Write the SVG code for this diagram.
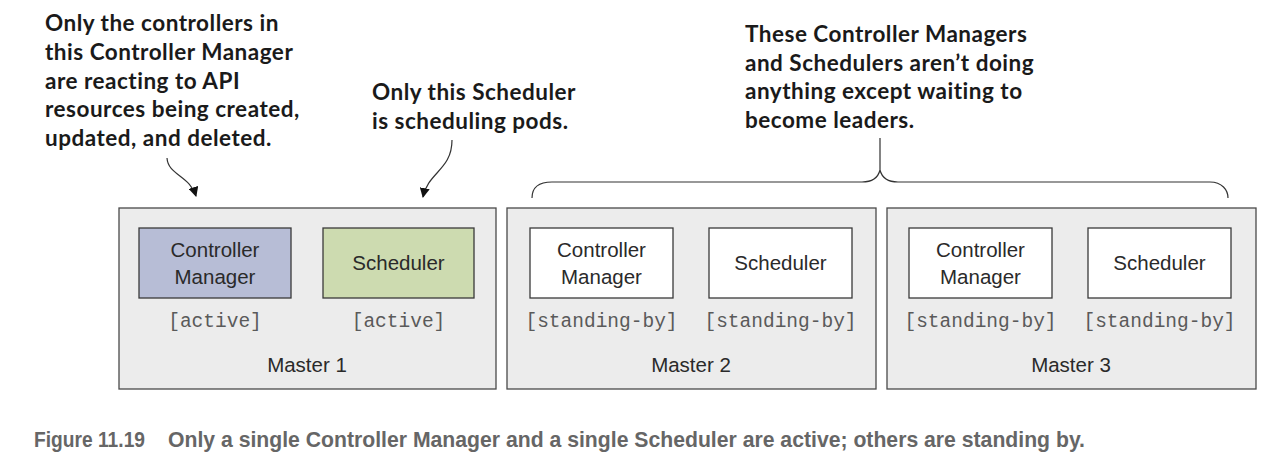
<svg xmlns="http://www.w3.org/2000/svg" width="1270" height="472" viewBox="0 0 1270 472">
<style>
.master{fill:#ececec;stroke:#4a4a4a;stroke-width:1.3}
.comp{stroke:#3a3a3a;stroke-width:1.3;fill:#ffffff}
.cm-active{fill:#b7bdd6}
.sch-active{fill:#cddbb0}
.lbl{font-family:"Liberation Sans",Arial,sans-serif;font-size:20.5px;fill:#2a2a2a;text-anchor:middle}
.state{font-family:"Liberation Mono","Courier New",monospace;font-size:19.5px;fill:#5a5a5a;text-anchor:middle}
.note{font-family:Lato,"Open Sans",sans-serif;font-weight:bold;font-size:22.5px;letter-spacing:0.5px;fill:#1a1a1a}
.cap{font-family:"Liberation Sans",Arial,sans-serif;font-weight:bold;font-size:21.5px;fill:#666}
.conn{fill:none;stroke:#333;stroke-width:1.2}
</style>
<defs>
<marker id="ah" viewBox="0 0 10 10" refX="9" refY="5" markerWidth="10" markerHeight="10" markerUnits="userSpaceOnUse" orient="auto">
<path d="M0,0 L10,5 L0,10 z" fill="#111"/>
</marker>
</defs>

<g id="master1">
<rect class="master" x="119" y="208" width="377" height="181"/>
<g id="cm1"><rect class="comp cm-active" x="139" y="228" width="152" height="70"/>
<text class="lbl" x="215" y="257">Controller</text><text class="lbl" x="215" y="284">Manager</text></g>
<g id="sch1"><rect class="comp sch-active" x="323" y="228" width="151" height="70"/>
<text class="lbl" x="398.5" y="270">Scheduler</text></g>
<text class="state" x="215" y="327">[active]</text>
<text class="state" x="398.5" y="327">[active]</text>
<text class="lbl" x="307" y="372">Master 1</text>
</g>

<g id="master2">
<rect class="master" x="507" y="208" width="369" height="181"/>
<g id="cm2"><rect class="comp" x="530" y="228" width="143" height="70"/>
<text class="lbl" x="601.5" y="257">Controller</text><text class="lbl" x="601.5" y="284">Manager</text></g>
<g id="sch2"><rect class="comp" x="709" y="228" width="143" height="70"/>
<text class="lbl" x="780.5" y="270">Scheduler</text></g>
<text class="state" x="601.5" y="327">[standing-by]</text>
<text class="state" x="780.5" y="327">[standing-by]</text>
<text class="lbl" x="691" y="372">Master 2</text>
</g>

<g id="master3">
<rect class="master" x="887" y="208" width="369" height="181"/>
<g id="cm3"><rect class="comp" x="909" y="228" width="143" height="70"/>
<text class="lbl" x="980.5" y="257">Controller</text><text class="lbl" x="980.5" y="284">Manager</text></g>
<g id="sch3"><rect class="comp" x="1088" y="228" width="143" height="70"/>
<text class="lbl" x="1159.5" y="270">Scheduler</text></g>
<text class="state" x="980.5" y="327">[standing-by]</text>
<text class="state" x="1159.5" y="327">[standing-by]</text>
<text class="lbl" x="1071" y="372">Master 3</text>
</g>

<g id="note-cm">
<text class="note" x="45" y="31">Only the controllers in</text>
<text class="note" x="45" y="60">this Controller Manager</text>
<text class="note" x="45" y="89">are reacting to API</text>
<text class="note" x="45" y="117">resources being created,</text>
<text class="note" x="45" y="146">updated, and deleted.</text>
</g>
<g id="note-sch">
<text class="note" x="372" y="100">Only this Scheduler</text>
<text class="note" x="372" y="129">is scheduling pods.</text>
</g>
<g id="note-standby">
<text class="note" x="745" y="42">These Controller Managers</text>
<text class="note" x="745" y="71">and Schedulers aren’t doing</text>
<text class="note" x="745" y="99">anything except waiting to</text>
<text class="note" x="745" y="128">become leaders.</text>
</g>

<g id="connectors">
<path class="conn" d="M167,158 C168,175 190,176 196,196" marker-end="url(#ah)"/>
<path class="conn" d="M452,140 C452,170 428,172 423,197" marker-end="url(#ah)"/>
<path class="conn" d="M532,198 C532,188 538,182 552,182 L862,182 C872,182 878,178 880,170 L880,138 M880,170 C882,178 888,182 898,182 L1210,182 C1222,182 1228,190 1228,198"/>
</g>

<g id="caption">
<text class="cap" x="34" y="447" textLength="111" lengthAdjust="spacingAndGlyphs">Figure 11.19</text>
<text class="cap" x="168" y="447" textLength="917" lengthAdjust="spacingAndGlyphs">Only a single Controller Manager and a single Scheduler are active; others are standing by.</text>
</g>
</svg>
